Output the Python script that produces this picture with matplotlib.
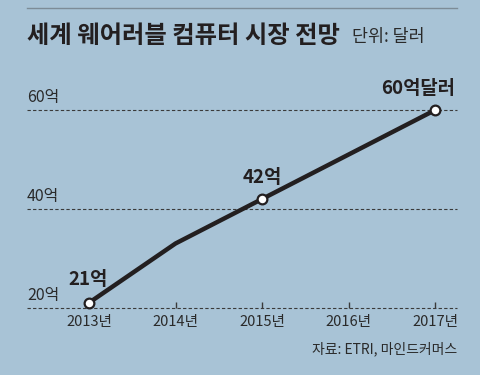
import matplotlib
matplotlib.use("Agg")
import matplotlib.pyplot as plt
from matplotlib.lines import Line2D

plt.rcParams['font.family'] = ['Noto Sans CJK KR', 'DejaVu Sans']

# data
years = [2013, 2014, 2015, 2016, 2017]
values = [21, 33, 42, 51, 60]
year_labels = ['2013년', '2014년', '2015년', '2016년', '2017년']
y_ticks = [20, 40, 60]
y_tick_labels = ['20억', '40억', '60억']
marked = [0, 2, 4]
point_labels = {0: '21억', 2: '42억', 4: '60억달러'}

bg = '#a8c3d6'
ink = '#231f20'

fig = plt.figure(figsize=(4.8, 3.75), dpi=100, facecolor=bg)
ax = fig.add_axes([0.05625, 0.1795, 0.8958, 0.6585], facecolor='none')

ax.set_xlim(2012.283, 2017.254)
ax.set_ylim(20, 70)

# dashed gridlines
for v in y_ticks:
    ax.axhline(v, color='#3a3a3a', lw=0.8, ls=(0, (3, 2)), zorder=1, clip_on=False)

ax.plot(years, values, color=ink, lw=3.2, solid_capstyle='round', zorder=3)
ax.plot([years[i] for i in marked], [values[i] for i in marked], 'o',
        ms=7, mfc='white', mec=ink, mew=1.6, zorder=4, clip_on=False)

for sp in ax.spines.values():
    sp.set_visible(False)
ax.set_yticks([])
ax.set_xticks(years)
ax.set_xticklabels(year_labels, fontsize=10.5, color='#2a2a2a')
ax.tick_params(axis='x', direction='in', length=4, width=1, color='#3a3a3a', pad=5)

# y labels above gridlines
for v, lab in zip(y_ticks, y_tick_labels):
    ax.annotate(lab, xy=(0, v), xycoords=('axes fraction', 'data'),
                xytext=(0, 3), textcoords='offset points',
                ha='left', va='bottom', fontsize=11.5, color='#2a2a2a')

# point labels
offsets = {0: (-1, 10), 2: (0, 9), 4: (-12, 9)}
for i, lab in point_labels.items():
    ax.annotate(lab, xy=(years[i], values[i]), xytext=offsets[i],
                textcoords='offset points', ha='center', va='bottom',
                fontsize=13.5, fontweight='bold', color=ink)

# title and header rule
fig.add_artist(Line2D([27/480, 457/480], [1-8/375, 1-8/375], color='#7d8c97', lw=1))
fig.text(27/480, 1-36/375, '세계 웨어러블 컴퓨터 시장 전망', fontsize=17.5,
         fontweight='bold', color=ink, ha='left', va='center')
fig.text(352/480, 1-37/375, '단위: 달러', fontsize=12.5, color='#2a2a2a',
         ha='left', va='center')

fig.text(457/480, 1-349/375, '자료: ETRI, 마인드커머스', fontsize=10,
         color='#2a2a2a', ha='right', va='center')

fig.savefig('out.png', dpi=100, facecolor=bg)
